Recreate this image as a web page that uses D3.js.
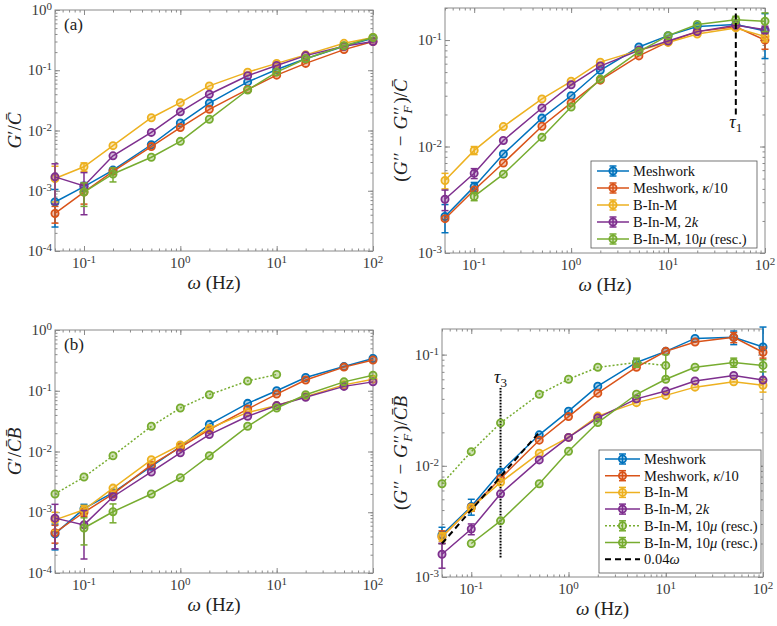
<!DOCTYPE html>
<html>
<head>
<meta charset="utf-8">
<script src="https://cdn.jsdelivr.net/npm/d3@7"></script>
<style>
  body { margin: 0; background: #fff; }
  svg, svg text { font-family: "Liberation Serif", "Times New Roman", "DejaVu Serif", serif; }
</style>
</head>
<body>
<svg id="fig" width="777" height="626"></svg>
<script>
// frequencies (Hz), shared by every panel
const freqs = [0.05, 0.1, 0.2, 0.5, 1, 2, 5, 10, 20, 50, 100];

// (a) G'/C
const aMesh   = [6.5e-4, 1.17e-3, 2.2e-3, 5.8e-3, 0.0133, 0.0285, 0.064, 0.103, 0.155, 0.25, 0.34];
const aMeshK  = [4.2e-4, 9.5e-4, 2.1e-3, 5.4e-3, 0.0112, 0.0225, 0.048, 0.083, 0.13, 0.22, 0.30];
const aBIM    = [1.6e-3, 2.5e-3, 5.6e-3, 0.0163, 0.029, 0.055, 0.093, 0.13, 0.18, 0.28, 0.35];
const aBIM2k  = [1.7e-3, 1.2e-3, 3.8e-3, 9.3e-3, 0.0204, 0.040, 0.081, 0.12, 0.175, 0.25, 0.30];
const aBIM10  = [null, 9.5e-4, 1.9e-3, 3.6e-3, 6.6e-3, 0.0154, 0.047, 0.093, 0.155, 0.255, 0.35];
const aMeshE  = [4e-4, 2e-4, 0, 0, 0, 0, 0, 0, 0, 0, 0];
const aMeshKE = [1.3e-4, 3.5e-4, 0, 0, 0, 0, 0, 0, 0, 0, 0];
const aBIME   = [9.5e-4, 4e-4, 0, 0, 0, 0, 0, 0, 0, 0, 0];
const aBIM2kE = [1.1e-3, 8e-4, 0, 0, 0, 0, 0, 0, 0, 0, 0];
const aBIM10E = [0, 4e-4, 5e-4, 0, 0, 0, 0, 0, 0, 0, 0];

// top right: (G'' - G''_F)/C
const bMesh   = [2.2e-3, 4.2e-3, 8.5e-3, 0.0185, 0.030, 0.052, 0.086, 0.11, 0.134, 0.14, 0.122];
const bMeshK  = [2.1e-3, 3.9e-3, 7e-3, 0.0155, 0.0257, 0.042, 0.071, 0.096, 0.12, 0.133, 0.10];
const bBIM    = [4.8e-3, 9.2e-3, 0.0154, 0.028, 0.041, 0.062, 0.08, 0.095, 0.114, 0.13, 0.108];
const bBIM2k  = [3.2e-3, 5.6e-3, 0.0114, 0.023, 0.038, 0.057, 0.08, 0.098, 0.12, 0.138, 0.125];
const bBIM10  = [null, 3.4e-3, 5.5e-3, 0.0122, 0.0235, 0.043, 0.078, 0.11, 0.14, 0.155, 0.15];
const bMeshE  = [6.5e-4, 4e-4, 0, 0, 0, 0, 0, 0, 0, 0.008, 0.055];
const bMeshKE = [0, 0, 0, 0, 0, 0, 0, 0, 0, 0, 0.018];
const bBIME   = [8e-4, 8e-4, 0, 0, 0, 0, 0, 0, 0, 0, 0.012];
const bBIM2kE = [7e-4, 6e-4, 0, 0, 0, 0, 0, 0, 0, 0, 0.01];
const bBIM10E = [0, 3e-4, 0, 0, 0, 0, 0, 0, 0, 0.012, 0.03];

// (b) G'/(C B)
const cMesh   = [4.4e-4, 1.15e-3, 2.1e-3, 5.7e-3, 0.012, 0.028, 0.062, 0.10, 0.165, 0.25, 0.34];
const cMeshK  = [4.6e-4, 1.0e-3, 2.0e-3, 6.0e-3, 0.0117, 0.023, 0.050, 0.088, 0.15, 0.245, 0.32];
const cBIM    = [7.5e-4, 1.1e-3, 2.5e-3, 7.3e-3, 0.0128, 0.024, 0.044, 0.057, 0.08, 0.125, 0.155];
const cBIM2k  = [8e-4, 6.2e-4, 1.8e-3, 4.6e-3, 9.5e-3, 0.019, 0.038, 0.057, 0.078, 0.118, 0.14];
const cBIM10r = [2e-3, 3.8e-3, 8.5e-3, 0.026, 0.052, 0.086, 0.145, 0.185, null, null, null];
const cBIM10  = [null, 5.5e-4, 1.02e-3, 2e-3, 3.7e-3, 8.5e-3, 0.026, 0.052, 0.086, 0.14, 0.18];
const cMeshE  = [2e-4, 2e-4, 0, 0, 0, 0, 0, 0, 0, 0, 0];
const cMeshKE = [1.5e-4, 1.5e-4, 0, 0, 0, 0, 0, 0, 0, 0, 0];
const cBIME   = [2.5e-4, 2e-4, 0, 0, 0, 0, 0, 0, 0, 0, 0];
const cBIM2kE = [5.5e-4, 4.5e-4, 0, 0, 0, 0, 0, 0, 0, 0, 0];
const cBIM10rE = [0, 0, 0, 0, 0, 0, 0, 0, 0, 0, 0];
const cBIM10E = [0, 2.6e-4, 3.5e-4, 0, 0, 0, 0, 0, 0, 0, 0];

// bottom right: (G'' - G''_F)/(C B)
const dMesh   = [2.4e-3, 4.3e-3, 8.8e-3, 0.019, 0.031, 0.052, 0.085, 0.107, 0.14, 0.143, 0.117];
const dMeshK  = [2.3e-3, 4.2e-3, 7.7e-3, 0.017, 0.0277, 0.045, 0.077, 0.107, 0.13, 0.143, 0.105];
const dBIM    = [2.3e-3, 4.2e-3, 7.1e-3, 0.013, 0.018, 0.028, 0.037, 0.043, 0.051, 0.057, 0.053];
const dBIM2k  = [1.6e-3, 2.7e-3, 5.6e-3, 0.0113, 0.018, 0.027, 0.040, 0.047, 0.058, 0.065, 0.059];
const dBIM10r = [6.9e-3, 0.0134, 0.0243, 0.044, 0.060, 0.077, 0.085, 0.080, null, null, null];
const dBIM10  = [null, 2e-3, 3.2e-3, 6.9e-3, 0.0135, 0.0245, 0.044, 0.060, 0.077, 0.085, 0.080];
const dMeshE  = [4e-4, 7e-4, 0, 0, 0, 0, 0, 0, 0, 0.02, 0.06];
const dMeshKE = [3e-4, 3e-4, 0, 0, 0, 0, 0, 0, 0, 0.015, 0.012];
const dBIME   = [2e-4, 0, 0, 0, 0, 0, 0, 0, 0, 0, 0.007];
const dBIM2kE = [4e-4, 3e-4, 0, 0, 0, 0, 0, 0, 0, 0, 0];
const dBIM10rE = [0, 0, 0, 0, 0, 0, 0.008, 0.02, 0, 0, 0];
const dBIM10E = [0, 0, 0, 0, 0, 0, 0, 0, 0, 0.008, 0.01];

// fit line 0.04*omega and the two time-scale markers
const fitX = [0.05, 0.5];
const fitY = [0.002, 0.02];
const tau1X = 50, tau1Y = [0.02, 0.2];
const tau3X = 0.2, tau3Y = [1.5e-3, 0.05];

const xDomain = [0.05, 100];

const C = {
  blue: "#0072BD", orange: "#D95319", yellow: "#EDB120",
  purple: "#7E2F8E", green: "#77AC30"
};
const FONT = "Liberation Serif, Times New Roman, DejaVu Serif, serif";

const svg = d3.select("#fig");

function makeSeries(vals, errs) {
  const colors = [C.blue, C.orange, C.yellow, C.purple, C.green];
  return vals.map((v, i) => ({ values: v, errors: errs[i], color: colors[i] }));
}

function powLabel(sel, exp) {
  sel.text("");
  sel.append("tspan").text("10");
  sel.append("tspan").attr("dy", "-0.45em").attr("font-size", "11px").text(exp);
}

function drawPanel(p) {
  const g = svg.append("g").attr("font-family", FONT);
  const x = d3.scaleLog().domain(xDomain).range([p.left, p.right]);
  const y = d3.scaleLog().domain(p.yDomain).range([p.bottom, p.top]);
  const axisColor = "#8a8a8a";

  g.append("rect")
    .attr("x", p.left).attr("y", p.top)
    .attr("width", p.right - p.left).attr("height", p.bottom - p.top)
    .attr("fill", "#fff").attr("stroke", axisColor).attr("stroke-width", 1);

  const isMajor = v => Math.abs(Math.log10(v) - Math.round(Math.log10(v))) < 1e-9;
  const xAll = x.ticks(), yAll = y.ticks();
  const xMaj = xAll.filter(isMajor), yMaj = yAll.filter(isMajor);

  // inward ticks on all four sides
  const tickSets = [
    [d3.axisBottom(x), `translate(0,${p.bottom})`, xAll, xMaj],
    [d3.axisTop(x), `translate(0,${p.top})`, xAll, xMaj],
    [d3.axisLeft(y), `translate(${p.left},0)`, yAll, yMaj],
    [d3.axisRight(y), `translate(${p.right},0)`, yAll, yMaj]
  ];
  tickSets.forEach(([ax, tr, all, maj]) => {
    g.append("g").attr("transform", tr)
      .call(ax.tickValues(all).tickSize(-2.5).tickFormat(""))
      .call(s => s.select(".domain").remove())
      .selectAll("line").attr("stroke", axisColor);
    g.append("g").attr("transform", tr)
      .call(ax.tickValues(maj).tickSize(-5).tickFormat(""))
      .call(s => s.select(".domain").remove())
      .selectAll("line").attr("stroke", axisColor);
  });

  // tick labels
  g.selectAll(".xl").data(xMaj).join("text")
    .attr("x", d => x(d)).attr("y", p.bottom + 17)
    .attr("text-anchor", "middle").attr("font-size", "15px").attr("fill", "#3a3a3a")
    .each(function(d) { powLabel(d3.select(this), String(Math.round(Math.log10(d)))); });
  g.selectAll(".yl").data(yMaj).join("text")
    .attr("x", p.left - 3).attr("y", d => y(d) + 5)
    .attr("text-anchor", "end").attr("font-size", "15px").attr("fill", "#3a3a3a")
    .each(function(d) { powLabel(d3.select(this), String(Math.round(Math.log10(d)))); });

  // x label
  const xl = g.append("text")
    .attr("x", (p.left + p.right) / 2).attr("y", p.bottom + 38)
    .attr("text-anchor", "middle").attr("font-size", "19px").attr("fill", "#222");
  xl.append("tspan").attr("font-style", "italic").text("ω");
  xl.append("tspan").text(" (Hz)");

  // y label
  const yl = g.append("text")
    .attr("transform", `translate(${p.ylabelX},${(p.top + p.bottom) / 2}) rotate(-90)`)
    .attr("text-anchor", "middle").attr("font-size", "19px").attr("fill", "#222");
  p.ylabel(yl);

  if (p.panelTag) {
    g.append("text").attr("x", p.left + 9).attr("y", p.top + 20)
      .attr("font-size", "17px").attr("fill", "#222").text(p.panelTag);
  }

  if (p.before) p.before(g, x, y);

  const y0 = p.yDomain[0];
  p.series.forEach(s => {
    const pts = freqs.map((f, i) => ({ f, v: s.values[i], e: s.errors[i] }))
      .filter(d => d.v != null);
    const line = d3.line().x(d => x(d.f)).y(d => y(d.v));
    g.append("path").datum(pts)
      .attr("d", line).attr("fill", "none")
      .attr("stroke", s.color).attr("stroke-width", 1.5)
      .attr("stroke-dasharray", s.dotted ? "2 2" : null);
    pts.filter(d => d.e > 0).forEach(d => {
      const lo = y(Math.max(d.v - d.e, y0)), hi = y(d.v + d.e), cx = x(d.f);
      g.append("line").attr("x1", cx).attr("x2", cx).attr("y1", lo).attr("y2", hi)
        .attr("stroke", s.color).attr("stroke-width", 1.5);
      [lo, hi].forEach(yy => {
        if (yy >= p.bottom - 0.5) return;
        g.append("line").attr("x1", cx - 3.5).attr("x2", cx + 3.5).attr("y1", yy).attr("y2", yy)
          .attr("stroke", s.color).attr("stroke-width", 1.5);
      });
    });
    g.selectAll(null).data(pts).join("circle")
      .attr("cx", d => x(d.f)).attr("cy", d => y(d.v)).attr("r", 3.6)
      .attr("fill", s.color).attr("fill-opacity", 0.35)
      .attr("stroke", s.color).attr("stroke-width", 1.8);
  });

  if (p.after) p.after(g, x, y);

  if (p.legend) drawLegend(g, p.legend);
}

function drawLegend(g, L) {
  g.append("rect").attr("x", L.x).attr("y", L.y).attr("width", L.w).attr("height", L.h)
    .attr("fill", "#fff").attr("stroke", "#555").attr("stroke-width", 0.8);
  L.items.forEach((it, i) => {
    const cy = L.y + L.first + i * L.step;
    const x0 = L.x + 6, x1 = x0 + L.sample, cx = (x0 + x1) / 2;
    g.append("line").attr("x1", x0).attr("x2", x1).attr("y1", cy).attr("y2", cy)
      .attr("stroke", it.color).attr("stroke-width", it.fit ? 2 : 1.5)
      .attr("stroke-dasharray", it.fit ? "6 4" : (it.dotted ? "2 2" : null));
    if (!it.fit) {
      g.append("line").attr("x1", cx).attr("x2", cx).attr("y1", cy - 5).attr("y2", cy + 5)
        .attr("stroke", it.color).attr("stroke-width", 1.5);
      [cy - 5, cy + 5].forEach(yy => g.append("line")
        .attr("x1", cx - 3.5).attr("x2", cx + 3.5).attr("y1", yy).attr("y2", yy)
        .attr("stroke", it.color).attr("stroke-width", 1.5));
      g.append("circle").attr("cx", cx).attr("cy", cy).attr("r", 3.6)
        .attr("fill", it.color).attr("fill-opacity", 0.35)
        .attr("stroke", it.color).attr("stroke-width", 1.8);
    }
    const t = g.append("text").attr("x", x1 + 4).attr("y", cy + 5)
      .attr("font-size", "14.5px").attr("fill", "#111");
    it.label(t);
  });
}

// label builders
function lbl(parts) {
  return t => parts.forEach(([txt, it]) => t.append("tspan").attr("font-style", it ? "italic" : null).text(txt));
}
const names = {
  mesh: lbl([["Meshwork"]]),
  meshK: lbl([["Meshwork, "], ["κ", 1], ["/10"]]),
  bim: lbl([["B-In-M"]]),
  bim2k: lbl([["B-In-M, 2"], ["k", 1]]),
  bim10: lbl([["B-In-M, 10"], ["μ", 1], [" (resc.)"]]),
  fit: lbl([["0.04"], ["ω", 1]])
};

function lossLabel(denom) {
  return t => {
    t.append("tspan").text("(");
    t.append("tspan").attr("font-style", "italic").text("G");
    t.append("tspan").attr("dx", "1").text("′′");
    t.append("tspan").attr("dx", "6").text("−");
    t.append("tspan").attr("dx", "6").attr("font-style", "italic").text("G");
    t.append("tspan").attr("dx", "1").text("′′");
    t.append("tspan").attr("font-style", "italic").attr("font-size", "13px")
      .attr("dx", "-7").attr("dy", "5").text("F");
    t.append("tspan").attr("dy", "-5").attr("dx", "2").text(")/");
    t.append("tspan").attr("font-style", "italic").text(denom);
  };
}
function storLabel(denom) {
  return t => {
    t.append("tspan").attr("font-style", "italic").text("G");
    t.append("tspan").text("′/");
    t.append("tspan").attr("font-style", "italic").text(denom);
  };
}

const fiveNames = [names.mesh, names.meshK, names.bim, names.bim2k, names.bim10];
const Cbar = "C\u0304", CBbar = "C\u0304B\u0304";

// (a)
drawPanel({
  left: 55, right: 373, top: 10, bottom: 251, yDomain: [1e-4, 1],
  ylabelX: 21, ylabel: storLabel(Cbar), panelTag: "(a)",
  series: makeSeries([aMesh, aMeshK, aBIM, aBIM2k, aBIM10],
                     [aMeshE, aMeshKE, aBIME, aBIM2kE, aBIM10E])
});

// top right
drawPanel({
  left: 445, right: 765, top: 8, bottom: 253, yDomain: [1e-3, 0.2],
  ylabelX: 407, ylabel: lossLabel(Cbar),
  series: makeSeries([bMesh, bMeshK, bBIM, bBIM2k, bBIM10],
                     [bMeshE, bMeshKE, bBIME, bBIM2kE, bBIM10E]),
  after: (g, x, y) => {
    g.append("line").attr("x1", x(tau1X)).attr("x2", x(tau1X))
      .attr("y1", y(tau1Y[0])).attr("y2", y(tau1Y[1]))
      .attr("stroke", "#000").attr("stroke-width", 2).attr("stroke-dasharray", "6 3.5");
    const t = g.append("text").attr("x", x(tau1X)).attr("y", y(tau1Y[0]) + 14)
      .attr("text-anchor", "middle").attr("font-size", "18px").attr("fill", "#111");
    t.append("tspan").attr("font-style", "italic").text("τ");
    t.append("tspan").attr("font-size", "13px").attr("dy", "4").text("1");
  },
  legend: {
    x: 591, y: 161, w: 166, h: 87, first: 10, step: 17, sample: 32,
    items: [C.blue, C.orange, C.yellow, C.purple, C.green].map((c, i) => ({ color: c, label: fiveNames[i] }))
  }
});

// (b)
const cSeries = makeSeries([cMesh, cMeshK, cBIM, cBIM2k, cBIM10],
                           [cMeshE, cMeshKE, cBIME, cBIM2kE, cBIM10E]);
cSeries.splice(4, 0, { values: cBIM10r, errors: cBIM10rE, color: C.green, dotted: true });
drawPanel({
  left: 55, right: 373, top: 330, bottom: 573, yDomain: [1e-4, 1],
  ylabelX: 21, ylabel: storLabel(CBbar), panelTag: "(b)",
  series: cSeries
});

// bottom right
const dSeries = makeSeries([dMesh, dMeshK, dBIM, dBIM2k, dBIM10],
                           [dMeshE, dMeshKE, dBIME, dBIM2kE, dBIM10E]);
dSeries.splice(4, 0, { values: dBIM10r, errors: dBIM10rE, color: C.green, dotted: true });
drawPanel({
  left: 442, right: 763, top: 329, bottom: 577, yDomain: [1e-3, 0.17],
  ylabelX: 407, ylabel: lossLabel(CBbar),
  series: dSeries,
  before: (g, x, y) => {
    g.append("line").attr("x1", x(tau3X)).attr("x2", x(tau3X))
      .attr("y1", y(tau3Y[0])).attr("y2", y(tau3Y[1]))
      .attr("stroke", "#000").attr("stroke-width", 2).attr("stroke-dasharray", "1.6 1.4");
    const t = g.append("text").attr("x", x(tau3X)).attr("y", y(tau3Y[1]) - 5)
      .attr("text-anchor", "middle").attr("font-size", "18px").attr("fill", "#111");
    t.append("tspan").attr("font-style", "italic").text("τ");
    t.append("tspan").attr("font-size", "13px").attr("dy", "4").text("3");
  },
  after: (g, x, y) => {
    g.append("path").datum(fitX.map((f, i) => [f, fitY[i]]))
      .attr("d", d3.line().x(d => x(d[0])).y(d => y(d[1])))
      .attr("fill", "none").attr("stroke", "#000").attr("stroke-width", 2)
      .attr("stroke-dasharray", "6 4");
  },
  legend: {
    x: 599, y: 450, w: 162, h: 123, first: 9, step: 16.7, sample: 35,
    items: [
      { color: C.blue, label: names.mesh },
      { color: C.orange, label: names.meshK },
      { color: C.yellow, label: names.bim },
      { color: C.purple, label: names.bim2k },
      { color: C.green, label: names.bim10, dotted: true },
      { color: C.green, label: names.bim10 },
      { color: "#000", label: names.fit, fit: true }
    ]
  }
});
</script>
</body>
</html>
